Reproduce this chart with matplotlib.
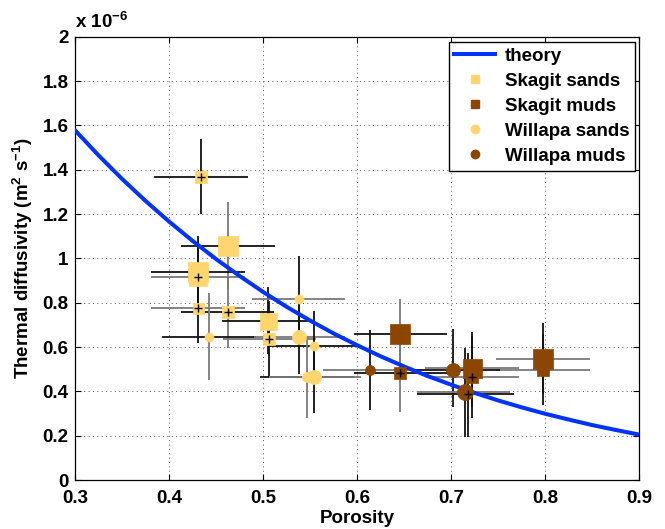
import matplotlib
matplotlib.use("Agg")
import matplotlib.pyplot as plt
from matplotlib.lines import Line2D

plt.rcParams['font.family'] = ['Liberation Sans', 'DejaVu Sans']
plt.rcParams['font.weight'] = 'bold'
plt.rcParams['mathtext.fontset'] = 'custom'
plt.rcParams['mathtext.rm'] = 'Liberation Sans:bold'
plt.rcParams['mathtext.it'] = 'Liberation Sans:bold'
plt.rcParams['mathtext.bf'] = 'Liberation Sans:bold'
plt.rcParams['mathtext.default'] = 'rm'

# ---------------- data (porosity, diffusivity in 1e-6 m^2/s) ----------------
theory_x = [0.300, 0.325, 0.350, 0.375, 0.400, 0.425, 0.450, 0.475, 0.500, 0.525,
            0.550, 0.575, 0.600, 0.625, 0.650, 0.675, 0.700, 0.725, 0.750, 0.775,
            0.800, 0.825, 0.850, 0.875, 0.900]
theory_y = [1.576, 1.463, 1.357, 1.258, 1.165, 1.078, 0.996, 0.920, 0.848, 0.781,
            0.719, 0.661, 0.608, 0.558, 0.512, 0.469, 0.430, 0.393, 0.359, 0.328,
            0.299, 0.273, 0.248, 0.226, 0.205]

# Skagit sands
ss_x    = [0.434, 0.462, 0.430, 0.430, 0.430, 0.462, 0.505, 0.506]
ss_y    = [1.369, 1.058, 0.940, 0.918, 0.778, 0.757, 0.719, 0.637]
ss_xlo  = [0.384, 0.412, 0.380, 0.380, 0.380, 0.412, 0.456, 0.457]
ss_xhi  = [0.484, 0.512, 0.480, 0.480, 0.480, 0.511, 0.555, 0.556]
ss_ylo  = [1.200, 0.860, 0.760, 0.760, 0.617, 0.597, 0.570, 0.466]
ss_yhi  = [1.540, 1.254, 1.100, 1.080, 0.940, 0.917, 0.873, 0.810]

# Skagit muds
sm_x    = [0.646, 0.646, 0.722, 0.722, 0.798, 0.798]
sm_y    = [0.658, 0.484, 0.507, 0.464, 0.546, 0.497]
sm_xlo  = [0.596, 0.596, 0.672, 0.673, 0.748, 0.748]
sm_xhi  = [0.696, 0.696, 0.772, 0.772, 0.848, 0.848]
sm_ylo  = [0.500, 0.306, 0.330, 0.279, 0.386, 0.339]
sm_yhi  = [0.816, 0.670, 0.670, 0.650, 0.707, 0.657]

# Willapa sands
ws_x    = [0.442, 0.538, 0.538, 0.554, 0.546, 0.554]
ws_y    = [0.647, 0.817, 0.647, 0.606, 0.466, 0.466]
ws_xlo  = [0.392, 0.488, 0.490, 0.506, 0.496, 0.506]
ws_xhi  = [0.492, 0.587, 0.587, 0.599, 0.596, 0.604]
ws_ylo  = [0.451, 0.640, 0.480, 0.450, 0.279, 0.301]
ws_yhi  = [0.843, 1.011, 0.810, 0.763, 0.647, 0.630]

# Willapa muds
wm_x    = [0.614, 0.702, 0.715, 0.718]
wm_y    = [0.497, 0.497, 0.399, 0.387]
wm_xlo  = [0.563, 0.655, 0.664, 0.664]
wm_xhi  = [0.665, 0.752, 0.763, 0.767]
wm_ylo  = [0.316, 0.328, 0.196, 0.196]
wm_yhi  = [0.677, 0.680, 0.595, 0.572]

# ---------------- styling per point (sizes in px, bar colours, plus flags) ----------------
ss_size = [12, 20, 20, 18, 11, 12, 17, 12]
ss_plus = [1, 0, 0, 1, 1, 1, 0, 1]
ss_xc   = ['k', 'k', 'k', 'g', 'g', 'k', 'k', 'g']
ss_yc   = ['k', 'g', 'k', 'k', 'k', 'g', 'k', 'k']

sm_size = [20, 12, 19, 12, 20, 12]
sm_plus = [0, 1, 0, 1, 0, 0]
sm_xc   = ['k', 'k', 'g', 'g', 'g', 'g']
sm_yc   = ['g', 'g', 'k', 'k', 'k', 'k']

ws_size = [9, 9, 14, 9, 10, 14]
ws_plus = [0, 0, 0, 0, 0, 0]
ws_xc   = ['k', 'g', 'g', 'k', 'k', 'g']
ws_yc   = ['g', 'k', 'k', 'k', 'g', 'k']

wm_size = [10, 14, 16, 9]
wm_plus = [0, 0, 0, 1]
wm_xc   = ['g', 'k', 'g', 'k']
wm_yc   = ['k', 'k', 'k', 'k']

SAND = '#FFD66E'
MUD = '#8C4600'
BLUE = '#0033FF'
BARC = {'k': '#111111', 'g': '#7a7a7a'}
PX = 72.0 / 100.0
FS = 13.5

fig = plt.figure(figsize=(6.65, 5.29), dpi=100)
ax = fig.add_axes([0.1135, 0.0926, 0.8475, 0.8378])


def draw(xs, ys, xlo, xhi, ylo, yhi, sizes, plus, xc, yc, marker, color):
    for i in range(len(xs)):
        ax.plot([xlo[i], xhi[i]], [ys[i], ys[i]], color=BARC[xc[i]], lw=1.3, zorder=2,
                solid_capstyle='butt')
        ax.plot([xs[i], xs[i]], [ylo[i], yhi[i]], color=BARC[yc[i]], lw=1.3, zorder=2,
                solid_capstyle='butt')
    for i in range(len(xs)):
        ax.plot([xs[i]], [ys[i]], marker=marker, ms=sizes[i] * PX, color=color,
                mec=color, mew=0.5, ls='none', zorder=4)
        if plus[i]:
            ax.plot([xs[i]], [ys[i]], marker='+', ms=6, color='k', mew=1.0, ls='none', zorder=5)


draw(ss_x, ss_y, ss_xlo, ss_xhi, ss_ylo, ss_yhi, ss_size, ss_plus, ss_xc, ss_yc, 's', SAND)
draw(sm_x, sm_y, sm_xlo, sm_xhi, sm_ylo, sm_yhi, sm_size, sm_plus, sm_xc, sm_yc, 's', MUD)
draw(ws_x, ws_y, ws_xlo, ws_xhi, ws_ylo, ws_yhi, ws_size, ws_plus, ws_xc, ws_yc, 'o', SAND)
draw(wm_x, wm_y, wm_xlo, wm_xhi, wm_ylo, wm_yhi, wm_size, wm_plus, wm_xc, wm_yc, 'o', MUD)

ax.plot(theory_x, theory_y, color=BLUE, lw=2.9, zorder=3, solid_joinstyle='round')

ax.set_xlim(0.3, 0.9)
ax.set_ylim(0, 2)
ax.set_xticks([0.3, 0.4, 0.5, 0.6, 0.7, 0.8, 0.9])
ax.set_xticklabels(['0.3', '0.4', '0.5', '0.6', '0.7', '0.8', '0.9'])
yt = [0, 0.2, 0.4, 0.6, 0.8, 1.0, 1.2, 1.4, 1.6, 1.8, 2.0]
ax.set_yticks(yt)
ax.set_yticklabels(['0', '0.2', '0.4', '0.6', '0.8', '1', '1.2', '1.4', '1.6', '1.8', '2'])
ax.tick_params(direction='in', top=True, right=True, length=4, width=0.8,
               labelsize=FS)
ax.tick_params(axis='x', pad=7)
ax.tick_params(axis='y', pad=5)
for lab in ax.get_xticklabels() + ax.get_yticklabels():
    lab.set_fontweight('bold')
ax.grid(True, color='#555555', linestyle=(0, (1, 3.5)), lw=0.7)
ax.set_axisbelow(True)
for s in ax.spines.values():
    s.set_linewidth(0.9)

ax.set_xlabel('Porosity', fontsize=FS, fontweight='bold', labelpad=2)
ax.set_ylabel(r'Thermal diffusivity (m$^2$ s$^{-1}$)', fontsize=FS, fontweight='bold', labelpad=5)
ax.text(0.0, 1.012, r'x 10$^{-6}$', transform=ax.transAxes, fontsize=FS,
        fontweight='bold', ha='left', va='bottom')

handles = [
    Line2D([], [], color=BLUE, lw=2.9),
    Line2D([], [], marker='s', color=SAND, ls='none', ms=6),
    Line2D([], [], marker='s', color=MUD, ls='none', ms=6),
    Line2D([], [], marker='o', color=SAND, ls='none', ms=6),
    Line2D([], [], marker='o', color=MUD, ls='none', ms=6),
]
labels = ['theory', 'Skagit sands', 'Skagit muds', 'Willapa sands', 'Willapa muds']
leg = ax.legend(handles, labels, loc='upper right', bbox_to_anchor=(0.993, 0.988),
                fancybox=False, framealpha=1, edgecolor='k',
                prop={'weight': 'bold', 'size': FS}, handlelength=2.2, handletextpad=0.5,
                borderpad=0.3, labelspacing=0.42, borderaxespad=0)
leg.get_frame().set_linewidth(1.0)

fig.savefig('out.png', dpi=100)
